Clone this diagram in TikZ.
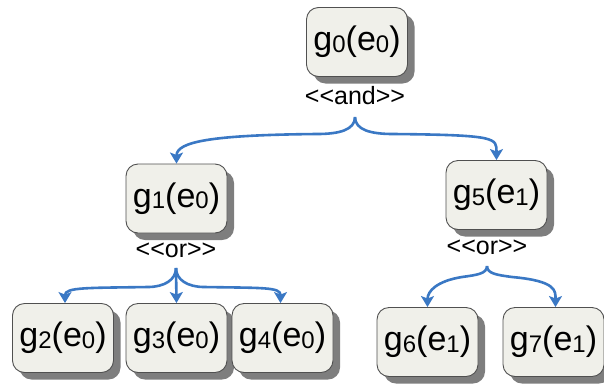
\documentclass[tikz,border=0pt]{standalone}
\usepackage{fontspec}
\setmainfont{Liberation Sans}
\usetikzlibrary{arrows.meta,shadows,calc}

\definecolor{boxfill}{HTML}{F0F0EA}
\definecolor{boxline}{HTML}{505050}
\definecolor{shadowgray}{HTML}{707070}
\definecolor{linkblue}{HTML}{3A78C4}

% goal label: letter with a subscript index, e.g. \goal{0}{0} -> g_0(e_0)
\newcommand\gsub[1]{\raisebox{-1.5pt}{\fontsize{24}{24}\selectfont #1}}
\newcommand\goal[2]{g\gsub{#1}(e\gsub{#2})}
% stereotype brackets kept as two separate angle signs
\newcommand\stereotype[1]{<{}<#1>{}>}

\tikzset{
  goalbox/.style={draw=boxline, line width=0.9pt, fill=boxfill,
    rounded corners=12pt, minimum width=101pt, minimum height=69pt,
    inner sep=0pt, font=\fontsize{34}{34}\selectfont,
    drop shadow={shadow xshift=7pt, shadow yshift=-7pt, fill=shadowgray, opacity=0.9}},
  stereo/.style={inner sep=0pt, font=\fontsize{25}{25}\selectfont},
  arrowline/.style={draw=linkblue, line width=2.6pt,
    -{Stealth[length=11pt, width=13pt, inset=2.5pt]}},
}

\begin{document}
\begin{tikzpicture}[x=1pt, y=-1pt]
  \useasboundingbox (0,0) rectangle (604,386);

  % goals
  \node[goalbox] (g0) at (357,42)    {\goal{0}{0}};
  \node[goalbox] (g1) at (176.5,198.5) {\goal{1}{0}};
  \node[goalbox] (g5) at (496.5,195) {\goal{5}{1}};
  \node[goalbox] (g2) at (63,338)    {\goal{2}{0}};
  \node[goalbox] (g3) at (176.5,338) {\goal{3}{0}};
  \node[goalbox] (g4) at (282.5,338) {\goal{4}{0}};
  \node[goalbox] (g6) at (427.5,342) {\goal{6}{1}};
  \node[goalbox] (g7) at (553.5,342) {\goal{7}{1}};

  % decomposition stereotypes
  \node[stereo] (and0) at (355,96)  {\stereotype{and}};
  \node[stereo] (or1)  at (176,250) {\stereotype{or}};
  \node[stereo] (or5)  at (487,247) {\stereotype{or}};

  % split points of the braces
  \coordinate (s0) at (355,117);
  \coordinate (s1) at (176,268);
  \coordinate (s5) at (487,266);

  % and-decomposition of g0
  \draw[arrowline] (s0) .. controls +(0,13) and +(22,0) .. ($(s0)+(-38,17)$)
                       .. controls +(-105,1) and +(0,-22) .. (g1.north);
  \draw[arrowline] (s0) .. controls +(0,13) and +(-22,0) .. ($(s0)+(38,17)$)
                       .. controls +(105,1) and +(0,-22) .. (g5.north);

  % or-decomposition of g1
  \draw[arrowline] (s1) .. controls +(0,12) and +(16,0) .. ($(s1)+(-28,19)$)
                       .. controls +(-60,1) and +(0,-16) .. ($(g2.north)+(2,0)$);
  \draw[arrowline] (s1) -- (g3.north);
  \draw[arrowline] (s1) .. controls +(0,12) and +(-16,0) .. ($(s1)+(28,19)$)
                       .. controls +(60,1) and +(0,-16) .. ($(g4.north)+(-2,0)$);

  % or-decomposition of g5
  \draw[arrowline] (s5) .. controls +(0,8) and +(14,-2) .. ($(s5)+(-25,11)$)
                       .. controls +(-25,4) and +(0,-16) .. (g6.north);
  \draw[arrowline] (s5) .. controls +(0,8) and +(-14,-2) .. ($(s5)+(25,11)$)
                       .. controls +(45,4) and +(0,-16) .. ($(g7.north)+(2,0)$);
\end{tikzpicture}
\end{document}
